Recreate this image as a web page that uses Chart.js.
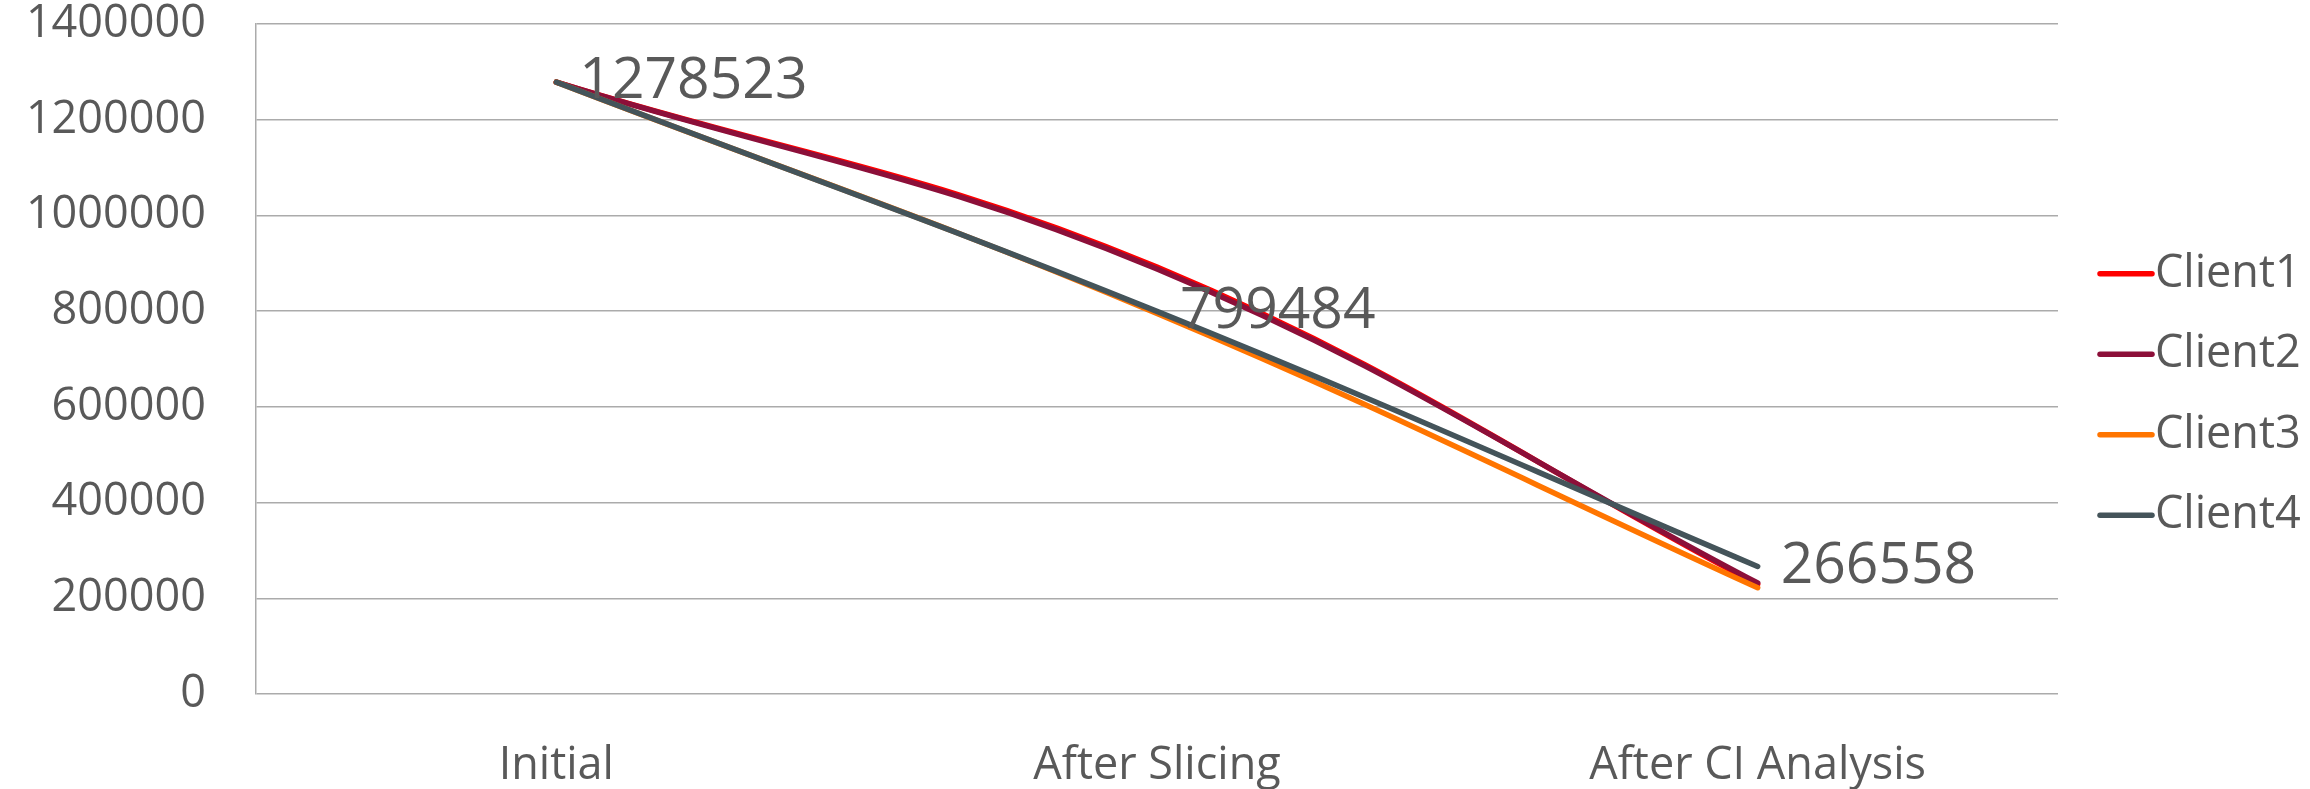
<!DOCTYPE html>
<html>
<head>
<meta charset="utf-8">
<script src="https://cdn.jsdelivr.net/npm/chart.js@4/dist/chart.umd.min.js"></script>
<style>
  html, body { margin: 0; padding: 0; background: #ffffff; }
  canvas { display: block; }
</style>
</head>
<body>
<canvas id="chart" width="2310" height="789"></canvas>
<script>
// Categories along the x axis
const categories = ['Initial', 'After Slicing', 'After CI Analysis'];

// Series names and values per stage
const seriesNames = ['Client1', 'Client2', 'Client3', 'Client4'];
const client1 = [1278523, 892000, 229000];
const client2 = [1278523, 888000, 232000];
const client3 = [1278523, 795000, 222000];
const client4 = [1278523, 799484, 266558];

// Value axis ticks
const yTicks = [0, 200000, 400000, 600000, 800000, 1000000, 1200000, 1400000];

// Series whose values are printed next to its points
const labelledSeries = 'Client4';

const seriesValues = [client1, client2, client3, client4];
const seriesColors = ['#ff0000', '#8c0f39', '#ff7500', '#44545a'];

const FONT = "'Open Sans', 'Noto Sans', sans-serif";
const TEXT = '#595959';
const GRID = '#ababab';

const datasets = seriesNames.map((name, i) => ({
  label: name,
  data: seriesValues[i],
  borderColor: seriesColors[i],
  backgroundColor: seriesColors[i],
  borderWidth: 5.5,
  borderCapStyle: 'round',
  borderJoinStyle: 'round',
  pointRadius: 0,
  pointHoverRadius: 0,
  tension: 0.4,
  fill: false,
  // later series sit on top
  order: seriesNames.length - i
}));

// Value labels beside the points of one series
const valueLabels = {
  id: 'valueLabels',
  afterDatasetsDraw(chart) {
    const idx = seriesNames.indexOf(labelledSeries);
    const meta = chart.getDatasetMeta(idx);
    const ctx = chart.ctx;
    ctx.save();
    ctx.font = `57px ${FONT}`;
    ctx.fillStyle = TEXT;
    ctx.textAlign = 'left';
    ctx.textBaseline = 'middle';
    meta.data.forEach((pt, j) => {
      ctx.fillText(String(chart.data.datasets[idx].data[j]), pt.x + 23, pt.y);
    });
    ctx.restore();
  }
};

// Legend on the right: short line sample followed by the series name
const sideLegend = {
  id: 'sideLegend',
  afterDraw(chart) {
    const ctx = chart.ctx;
    const area = chart.chartArea;
    const step = 80.5;
    const n = chart.data.datasets.length;
    const cy = chart.height / 2;
    ctx.save();
    ctx.font = `45px ${FONT}`;
    ctx.textAlign = 'left';
    ctx.textBaseline = 'middle';
    chart.data.datasets.forEach((ds, i) => {
      const y = cy + (i - (n - 1) / 2) * step;
      ctx.strokeStyle = ds.borderColor;
      ctx.lineWidth = 5.5;
      ctx.lineCap = 'round';
      ctx.beginPath();
      ctx.moveTo(area.right + 42, y);
      ctx.lineTo(area.right + 94, y);
      ctx.stroke();
      ctx.fillStyle = TEXT;
      ctx.fillText(ds.label, area.right + 97, y);
    });
    ctx.restore();
  }
};

new Chart(document.getElementById('chart'), {
  type: 'line',
  data: { labels: categories, datasets },
  options: {
    responsive: false,
    animation: false,
    devicePixelRatio: 1,
    layout: { padding: { left: 0, top: 24, right: 252, bottom: 0 } },
    plugins: {
      legend: { display: false },
      tooltip: { enabled: false },
      title: { display: false }
    },
    scales: {
      x: {
        offset: true,
        grid: { display: false, drawTicks: false },
        border: { display: false },
        ticks: {
          color: TEXT,
          font: { family: FONT, size: 45, lineHeight: 1.2 },
          padding: 45,
          maxRotation: 0,
          autoSkip: false
        },
        afterFit(scale) {
          scale.height = 95;
          scale.paddingLeft = 0;
          scale.paddingRight = 0;
        }
      },
      y: {
        min: yTicks[0],
        max: yTicks[yTicks.length - 1],
        afterBuildTicks(scale) { scale.ticks = yTicks.map(v => ({ value: v })); },
        grid: { color: GRID, lineWidth: 1.5, drawTicks: false },
        border: { display: true, color: GRID, width: 1.5 },
        ticks: {
          color: TEXT,
          font: { family: FONT, size: 45, lineHeight: 1 },
          padding: 50,
          callback: v => String(v)
        },
        afterFit(scale) {
          scale.width = 256;
          scale.paddingTop = 0;
          scale.paddingBottom = 0;
        }
      }
    }
  },
  plugins: [valueLabels, sideLegend]
});
</script>
</body>
</html>
